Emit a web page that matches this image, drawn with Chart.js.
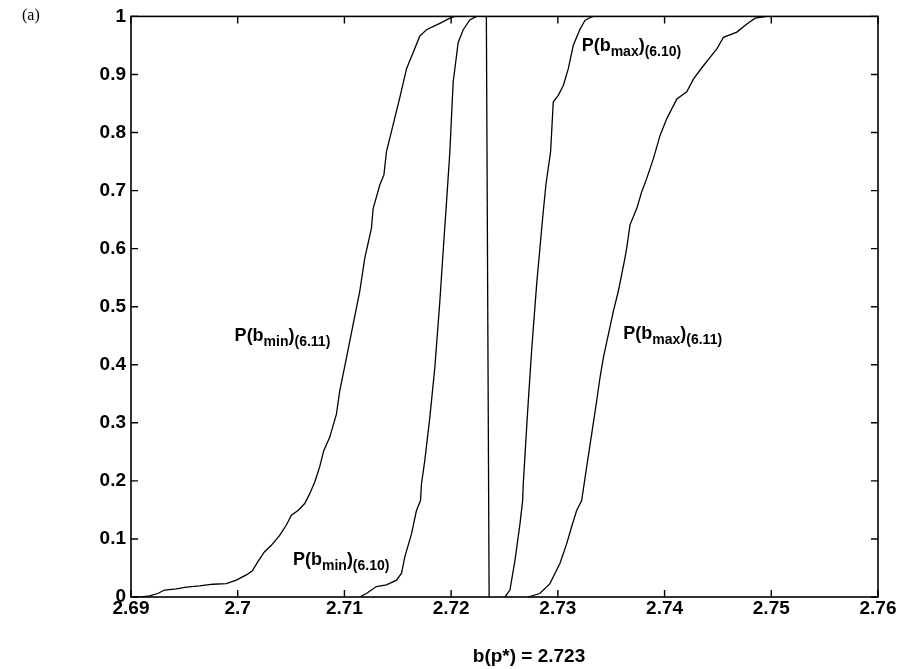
<!DOCTYPE html>
<html>
<head>
<meta charset="utf-8">
<script src="https://cdn.jsdelivr.net/npm/chart.js@4.4.0/dist/chart.umd.min.js"></script>
<style>
  html, body { margin: 0; padding: 0; background: #fff; }
  #wrap { width: 901px; height: 669px; }
</style>
</head>
<body>
<div id="wrap"><canvas id="chart" width="901" height="669"></canvas></div>
<script>
// tick positions
const xTicks = [2.69, 2.7, 2.71, 2.72, 2.73, 2.74, 2.75, 2.76];
const yTicks = [0, 0.1, 0.2, 0.3, 0.4, 0.5, 0.6, 0.7, 0.8, 0.9, 1];

// P(b_min) from (6.11)
const bMin611X = [2.6900, 2.69096, 2.69174, 2.69251, 2.69314, 2.69424, 2.69518, 2.69643, 2.69767, 2.69893,
    2.69987, 2.70081, 2.70137, 2.70189, 2.70252, 2.70315, 2.70393, 2.70456, 2.70503, 2.70565,
    2.70628, 2.70675, 2.70722, 2.70768, 2.70806, 2.70862, 2.70925, 2.70956, 2.71019, 2.71081,
    2.71144, 2.71191, 2.71253, 2.71269, 2.71332, 2.71370, 2.71394, 2.71519, 2.71582, 2.71644,
    2.71706, 2.71769, 2.71894, 2.71988, 2.72035];
const bMin611P = [0, 0, 0.002, 0.006, 0.012, 0.014, 0.017, 0.019, 0.022, 0.023,
    0.029, 0.038, 0.045, 0.061, 0.078, 0.089, 0.106, 0.124, 0.141, 0.149,
    0.161, 0.178, 0.198, 0.224, 0.252, 0.275, 0.315, 0.355, 0.412, 0.469,
    0.527, 0.584, 0.635, 0.669, 0.710, 0.727, 0.767, 0.86, 0.91, 0.938,
    0.966, 0.977, 0.988, 0.997, 1];

// P(b_min) from (6.10)
const bMin610X = [2.71143, 2.71206, 2.71300, 2.71394, 2.71488, 2.71535, 2.71566, 2.71629, 2.71675, 2.71713,
    2.71722, 2.71753, 2.71800, 2.71847, 2.71894, 2.71925, 2.71957, 2.71988, 2.72019, 2.72066,
    2.72113, 2.72175, 2.72238];
const bMin610P = [0, 0.006, 0.018, 0.021, 0.029, 0.041, 0.069, 0.109, 0.149, 0.166,
    0.195, 0.235, 0.309, 0.395, 0.509, 0.595, 0.681, 0.767, 0.887, 0.955,
    0.977, 0.994, 1];

// b(p*) marker
const pStarX = [2.7233, 2.72356];
const pStarP = [1, 0];

// P(b_max) from (6.10)
const bMax610X = [2.72504, 2.72551, 2.72598, 2.72645, 2.72670, 2.72676, 2.72713, 2.72754, 2.72801, 2.72857,
    2.72888, 2.72932, 2.72957, 2.73004, 2.73051, 2.73098, 2.73144, 2.73207, 2.73254, 2.73301, 2.73332];
const bMax610P = [0, 0.012, 0.063, 0.126, 0.166, 0.195, 0.309, 0.424, 0.538, 0.652,
    0.710, 0.767, 0.853, 0.864, 0.881, 0.91, 0.95, 0.978, 0.993, 0.998, 1];

// P(b_max) from (6.11)
const bMax611X = [2.72720, 2.72830, 2.72926, 2.73020, 2.73083, 2.73129, 2.73176, 2.73223, 2.73270, 2.73317,
    2.73364, 2.73395, 2.73426, 2.73473, 2.73520, 2.73567, 2.73629, 2.73645, 2.73676, 2.73739,
    2.73786, 2.73833, 2.73895, 2.73958, 2.74021, 2.74115, 2.74208, 2.74270, 2.74364, 2.74411,
    2.74490, 2.74552, 2.74677, 2.74771, 2.74849, 2.74959];
const bMax611P = [0, 0.006, 0.023, 0.058, 0.092, 0.121, 0.149, 0.166, 0.224, 0.281,
    0.338, 0.378, 0.412, 0.452, 0.492, 0.527, 0.584, 0.601, 0.641, 0.669,
    0.698, 0.721, 0.755, 0.795, 0.824, 0.858, 0.870, 0.892, 0.915, 0.926,
    0.944, 0.964, 0.973, 0.987, 0.997, 1];

// curve labels: subscript, equation, anchor in data units (left, baseline)
const curveLabels = [
    { sub: "min", eq: "(6.11)", x: 2.69971, y: 0.4408 },
    { sub: "min", eq: "(6.10)", x: 2.70518, y: 0.0549 },
    { sub: "max", eq: "(6.10)", x: 2.73223, y: 0.9412 },
    { sub: "max", eq: "(6.11)", x: 2.73613, y: 0.4437 }
];

const FONT = "'Liberation Sans', Arial, Helvetica, sans-serif";

function toPoints(xs, ps) {
    return xs.map((x, i) => ({ x, y: ps[i] }));
}

function serie(label, xs, ps) {
    return {
        label,
        data: toPoints(xs, ps),
        showLine: true,
        borderColor: "#000",
        borderWidth: 1.3,
        pointRadius: 0,
        tension: 0,
        fill: false
    };
}

const boxPlugin = {
    id: "boxPlugin",
    afterDatasetsDraw(chart) {
        const ctx = chart.ctx;
        const a = chart.chartArea;
        const xs = chart.scales.x;
        const ys = chart.scales.y;
        const tl = 7;

        ctx.save();
        ctx.strokeStyle = "#000";
        ctx.lineWidth = 1.6;
        ctx.strokeRect(a.left, a.top, a.right - a.left, a.bottom - a.top);

        ctx.lineWidth = 1.4;
        ctx.beginPath();
        xTicks.forEach(v => {
            const px = xs.getPixelForValue(v);
            ctx.moveTo(px, a.bottom);
            ctx.lineTo(px, a.bottom - tl);
            ctx.moveTo(px, a.top);
            ctx.lineTo(px, a.top + tl);
        });
        yTicks.forEach(v => {
            const py = ys.getPixelForValue(v);
            ctx.moveTo(a.left, py);
            ctx.lineTo(a.left + tl, py);
            ctx.moveTo(a.right, py);
            ctx.lineTo(a.right - tl, py);
        });
        ctx.stroke();

        // curve labels
        ctx.fillStyle = "#000";
        ctx.textBaseline = "alphabetic";
        ctx.textAlign = "left";
        curveLabels.forEach(l => {
            let px = xs.getPixelForValue(l.x);
            const py = ys.getPixelForValue(l.y);
            const parts = [
                { t: "P(b", size: 18, dy: 0 },
                { t: l.sub, size: 14, dy: 5 },
                { t: ")", size: 18, dy: 0 },
                { t: l.eq, size: 14, dy: 5 }
            ];
            parts.forEach(p => {
                ctx.font = `bold ${p.size}px ${FONT}`;
                ctx.fillText(p.t, px, py + p.dy);
                px += ctx.measureText(p.t).width;
            });
        });

        // x axis label and panel letter
        ctx.font = `bold 19px ${FONT}`;
        ctx.textAlign = "center";
        ctx.fillText("b(p*) = 2.723", 529, 662);

        ctx.font = "16px 'Liberation Serif', 'Times New Roman', serif";
        ctx.textAlign = "left";
        ctx.fillText("(a)", 22, 20);
        ctx.restore();
    }
};

new Chart(document.getElementById("chart"), {
    type: "scatter",
    data: {
        datasets: [
            serie("P(bmin)(6.11)", bMin611X, bMin611P),
            serie("P(bmin)(6.10)", bMin610X, bMin610P),
            serie("b(p*)", pStarX, pStarP),
            serie("P(bmax)(6.10)", bMax610X, bMax610P),
            serie("P(bmax)(6.11)", bMax611X, bMax611P)
        ]
    },
    options: {
        responsive: false,
        animation: false,
        devicePixelRatio: 1,
        layout: { padding: { top: 14, right: 23, left: 0, bottom: 0 } },
        plugins: {
            legend: { display: false },
            tooltip: { enabled: false }
        },
        scales: {
            x: {
                type: "linear",
                min: 2.69,
                max: 2.76,
                afterBuildTicks: scale => {
                    scale.ticks = xTicks.map(v => ({ value: v }));
                },
                afterFit: scale => {
                    scale.height = 72;
                },
                ticks: {
                    callback: v => String(+Number(v).toFixed(2)),
                    color: "#000",
                    font: { family: FONT, size: 19, weight: "bold" },
                    maxRotation: 0,
                    autoSkip: false,
                    padding: 0
                },
                grid: { display: false, drawTicks: false },
                border: { display: false }
            },
            y: {
                min: 0,
                max: 1,
                afterBuildTicks: scale => {
                    scale.ticks = yTicks.map(v => ({ value: v }));
                },
                afterFit: scale => {
                    scale.width = 131;
                },
                ticks: {
                    callback: v => String(+Number(v).toFixed(1)),
                    color: "#000",
                    font: { family: FONT, size: 19, weight: "bold" },
                    autoSkip: false,
                    padding: 5
                },
                grid: { display: false, drawTicks: false },
                border: { display: false }
            }
        }
    },
    plugins: [boxPlugin]
});
</script>
</body>
</html>
